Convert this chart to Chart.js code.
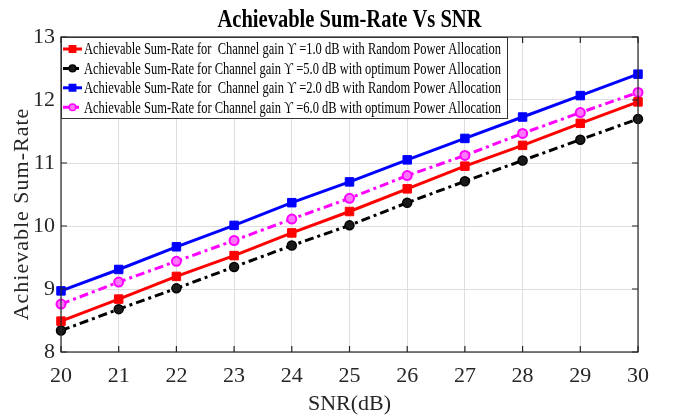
<!DOCTYPE html>
<html>
<head>
<meta charset="utf-8">
<script src="https://cdn.jsdelivr.net/npm/chart.js@4.4.1/dist/chart.umd.min.js"></script>
<style>
  html, body { margin: 0; padding: 0; background: #fff; }
  #wrap { width: 676px; height: 417px; }
</style>
</head>
<body>
<div id="wrap"><canvas id="rateChart" width="676" height="417"></canvas></div>
<script>
// ---------- DATA ----------
const snrDb = [20, 21, 22, 23, 24, 25, 26, 27, 28, 29, 30];
const rateGain1Random = [8.49, 8.84, 9.20, 9.53, 9.89, 10.23, 10.59, 10.95, 11.28, 11.63, 11.97];
const rateGain5Optimum = [8.34, 8.68, 9.01, 9.35, 9.69, 10.01, 10.37, 10.71, 11.04, 11.37, 11.70];
const rateGain2Random = [8.97, 9.31, 9.67, 10.01, 10.37, 10.70, 11.05, 11.39, 11.73, 12.07, 12.41];
const rateGain6Optimum = [8.76, 9.11, 9.44, 9.77, 10.11, 10.44, 10.80, 11.12, 11.47, 11.80, 12.12];
const yTicks = [8, 9, 10, 11, 12, 13];

const legendLabels = [
  "Achievable Sum-Rate for  Channel gain \u03D2 =1.0 dB with Random Power Allocation",
  "Achievable Sum-Rate for Channel gain \u03D2 =5.0 dB with optimum Power Allocation",
  "Achievable Sum-Rate for  Channel gain \u03D2 =2.0 dB with Random Power Allocation",
  "Achievable Sum-Rate for Channel gain \u03D2 =6.0 dB with optimum Power Allocation"
];
const chartTitle = "Achievable Sum-Rate Vs SNR";
const xTitle = "SNR(dB)";
const yTitle = "Achievable Sum-Rate";

const SERIF = "'Liberation Serif', 'Times New Roman', serif";
const AXIS_COLOR = "#262626";
const dashDot = [9, 4, 3, 4];

function points(ys) {
  return ys.map((y, i) => ({ x: snrDb[i], y }));
}

// ---------- DRAW HELPERS ----------
function drawMarker(ctx, style, x, y, r, fill, stroke) {
  ctx.beginPath();
  if (style === "rect") {
    const s = r * Math.SQRT1_2;
    ctx.rect(x - s, y - s, 2 * s, 2 * s);
  } else {
    ctx.arc(x, y, r, 0, Math.PI * 2);
  }
  ctx.fillStyle = fill;
  ctx.fill();
  ctx.lineWidth = 1.5;
  ctx.strokeStyle = stroke;
  ctx.stroke();
}

// title, axis titles, box, inward ticks and legend
const decorPlugin = {
  id: "decor",
  afterDraw(chart) {
    const ctx = chart.ctx;
    const area = chart.chartArea;
    const xs = chart.scales.x;
    const ys = chart.scales.y;

    ctx.save();

    // box
    ctx.strokeStyle = AXIS_COLOR;
    ctx.lineWidth = 1.2;
    ctx.strokeRect(area.left, area.top, area.right - area.left, area.bottom - area.top);

    // inward tick marks
    ctx.beginPath();
    snrDb.forEach(v => {
      const px = xs.getPixelForValue(v);
      ctx.moveTo(px, area.bottom); ctx.lineTo(px, area.bottom - 6);
      ctx.moveTo(px, area.top); ctx.lineTo(px, area.top + 6);
    });
    yTicks.forEach(v => {
      const py = ys.getPixelForValue(v);
      ctx.moveTo(area.left, py); ctx.lineTo(area.left + 6, py);
      ctx.moveTo(area.right, py); ctx.lineTo(area.right - 6, py);
    });
    ctx.stroke();

    // chart title
    ctx.fillStyle = "#000";
    ctx.textAlign = "center";
    ctx.textBaseline = "alphabetic";
    ctx.font = "bold 25px " + SERIF;
    ctx.fillText(chartTitle, (area.left + area.right) / 2, 27, 264);

    // x title
    ctx.fillStyle = AXIS_COLOR;
    ctx.font = "22px " + SERIF;
    ctx.textBaseline = "middle";
    ctx.fillText(xTitle, (area.left + area.right) / 2, 404);

    // y title
    ctx.save();
    ctx.translate(22, 214);
    ctx.rotate(-Math.PI / 2);
    ctx.letterSpacing = "1px";
    ctx.fillText(yTitle, 0, 0);
    ctx.restore();

    // legend
    const lx = area.left, ly = area.top, lw = 446, lh = 81;
    ctx.fillStyle = "#fff";
    ctx.fillRect(lx, ly, lw, lh);
    ctx.strokeStyle = "#333";
    ctx.lineWidth = 1;
    ctx.strokeRect(lx + 0.5, ly + 0.5, lw, lh);

    chart.data.datasets.forEach((ds, i) => {
      const cy = ly + 12 + i * 19.4;
      ctx.beginPath();
      ctx.setLineDash(ds.borderDash || []);
      ctx.strokeStyle = ds.borderColor;
      ctx.lineWidth = 3;
      ctx.moveTo(lx + 2, cy);
      ctx.lineTo(lx + 21, cy);
      ctx.stroke();
      ctx.setLineDash([]);
      drawMarker(ctx, ds.pointStyle, lx + 11.5, cy, ds.pointStyle === "rect" ? 4.5 : 3.3,
        ds.pointBackgroundColor, ds.borderColor);
      ctx.fillStyle = "#000";
      ctx.textAlign = "left";
      ctx.textBaseline = "middle";
      ctx.font = "17px " + SERIF;
      ctx.fillText(legendLabels[i], lx + 23, cy + 1, 417);
    });

    ctx.restore();
  }
};

// ---------- CHART ----------
new Chart(document.getElementById("rateChart"), {
  type: "line",
  data: {
    datasets: [
      {
        label: legendLabels[0],
        data: points(rateGain1Random),
        borderColor: "#ff0000",
        pointBackgroundColor: "#ff0000",
        borderWidth: 3,
        pointStyle: "rect",
        pointRadius: 6,
        pointBorderWidth: 1
      },
      {
        label: legendLabels[1],
        data: points(rateGain5Optimum),
        borderColor: "#000000",
        pointBackgroundColor: "#1a1a1a",
        borderWidth: 3,
        borderDash: dashDot,
        pointStyle: "circle",
        pointRadius: 4.5,
        pointBorderWidth: 1.5
      },
      {
        label: legendLabels[2],
        data: points(rateGain2Random),
        borderColor: "#0000ff",
        pointBackgroundColor: "#0000ff",
        borderWidth: 3,
        pointStyle: "rect",
        pointRadius: 6,
        pointBorderWidth: 1
      },
      {
        label: legendLabels[3],
        data: points(rateGain6Optimum),
        borderColor: "#ff00ff",
        pointBackgroundColor: "#ff77ff",
        borderWidth: 3,
        borderDash: dashDot,
        pointStyle: "circle",
        pointRadius: 4.5,
        pointBorderWidth: 2
      }
    ]
  },
  options: {
    responsive: false,
    animation: false,
    devicePixelRatio: 1,
    clip: false,
    layout: { padding: { top: 37, right: 38, left: 0, bottom: 0 } },
    elements: { line: { tension: 0, fill: false } },
    plugins: {
      legend: { display: false },
      title: { display: false },
      tooltip: { enabled: false }
    },
    scales: {
      x: {
        type: "linear",
        min: 20,
        max: 30,
        afterFit: s => { s.height = 65; },
        ticks: {
          stepSize: 1,
          color: AXIS_COLOR,
          padding: 11,
          font: { family: SERIF, size: 22 }
        },
        grid: { color: "#dedede", drawTicks: false },
        border: { display: false }
      },
      y: {
        min: 8,
        max: 13,
        afterFit: s => { s.width = 61; },
        ticks: {
          stepSize: 1,
          color: AXIS_COLOR,
          padding: 6,
          font: { family: SERIF, size: 22 }
        },
        grid: { color: "#dedede", drawTicks: false },
        border: { display: false }
      }
    }
  },
  plugins: [decorPlugin]
});
</script>
</body>
</html>
